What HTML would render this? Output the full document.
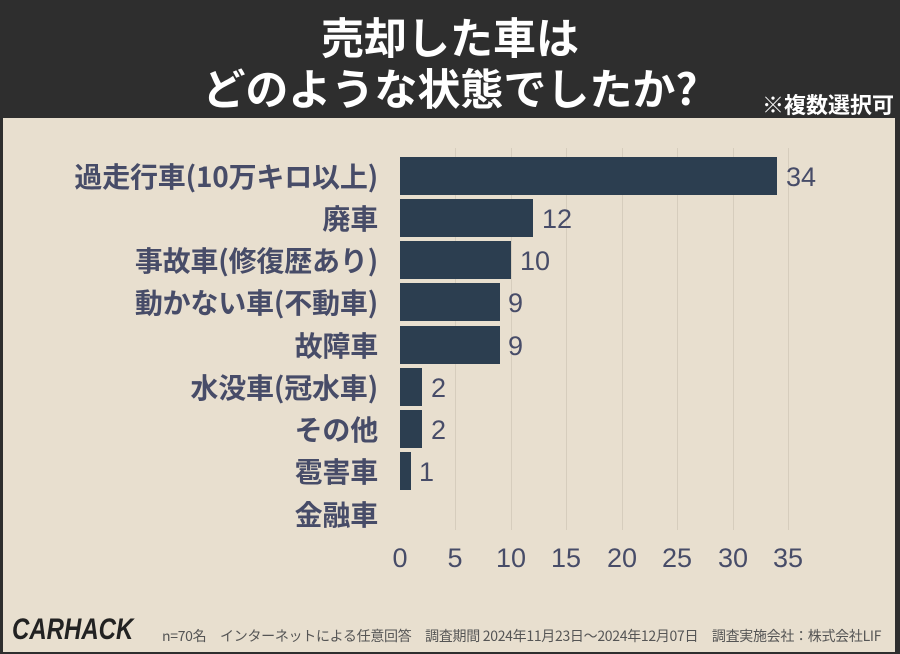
<!DOCTYPE html>
<html><head><meta charset="utf-8"><style>
body{margin:0;width:900px;height:654px;overflow:hidden;background:#2e2e2e;font-family:"Liberation Sans","Noto Sans CJK JP",sans-serif}
#bg{position:absolute;left:3px;top:118px;width:892px;height:534px;background:#e8dfcf}
.h{position:absolute;left:0;width:900px;text-align:center;color:#fff;font-weight:bold;font-size:43px;font-family:"Noto Sans CJK JP",sans-serif}
.lab{position:absolute;right:522px;font-weight:bold;font-size:28px;color:#474c68;font-family:"Noto Sans CJK JP",sans-serif;line-height:30px;white-space:nowrap;letter-spacing:-0.2px}
.bar{position:absolute;left:400px;height:38px;background:#2c3e50}
.val{position:absolute;font-size:27px;color:#474c68;line-height:30px}
.g{position:absolute;top:148px;height:382px;width:1px;background:#d6cdbd}
.t{position:absolute;top:543px;width:40px;margin-left:-20px;text-align:center;font-size:27px;color:#474c68}
</style></head><body>
<div id="bg"></div>
<div class="h" style="top:11px;line-height:50px">売却した車は</div>
<div class="h" style="top:61px;line-height:52px">どのような状態でしたか?</div>
<div style="position:absolute;right:6px;top:90px;color:#fff;font-weight:bold;font-size:22px;font-family:'Noto Sans CJK JP',sans-serif;line-height:28px">※複数選択可</div>
<div class="g" style="left:455px"></div><div class="g" style="left:511px"></div><div class="g" style="left:566px"></div><div class="g" style="left:622px"></div><div class="g" style="left:677px"></div><div class="g" style="left:733px"></div><div class="g" style="left:788px"></div>
<div class="lab" style="top:161px">過走行車(10万キロ以上)</div><div class="bar" style="top:157px;width:377px"></div><div class="val" style="left:786px;top:162px">34</div>
<div class="lab" style="top:203px">廃車</div><div class="bar" style="top:199px;width:133px"></div><div class="val" style="left:542px;top:204px">12</div>
<div class="lab" style="top:245px">事故車(修復歴あり)</div><div class="bar" style="top:241px;width:111px"></div><div class="val" style="left:520px;top:246px">10</div>
<div class="lab" style="top:287px">動かない車(不動車)</div><div class="bar" style="top:283px;width:100px"></div><div class="val" style="left:508px;top:288px">9</div>
<div class="lab" style="top:330px">故障車</div><div class="bar" style="top:326px;width:100px"></div><div class="val" style="left:508px;top:331px">9</div>
<div class="lab" style="top:372px">水没車(冠水車)</div><div class="bar" style="top:368px;width:22px"></div><div class="val" style="left:431px;top:373px">2</div>
<div class="lab" style="top:414px">その他</div><div class="bar" style="top:410px;width:22px"></div><div class="val" style="left:431px;top:415px">2</div>
<div class="lab" style="top:456px">雹害車</div><div class="bar" style="top:452px;width:11px"></div><div class="val" style="left:419px;top:457px">1</div>
<div class="lab" style="top:499px">金融車</div>
<div class="t" style="left:400px">0</div><div class="t" style="left:455px">5</div><div class="t" style="left:511px">10</div><div class="t" style="left:566px">15</div><div class="t" style="left:622px">20</div><div class="t" style="left:677px">25</div><div class="t" style="left:733px">30</div><div class="t" style="left:788px">35</div>
<div style="position:absolute;left:12px;top:613px;font-size:30px;font-weight:bold;font-style:italic;color:#222;transform:scaleX(0.8);transform-origin:left">CARHACK</div>
<div style="position:absolute;left:162px;top:626px;font-size:14px;color:#555;font-family:'Noto Sans CJK JP',sans-serif;white-space:nowrap;letter-spacing:-0.3px">n=70名　インターネットによる任意回答　調査期間 2024年11月23日〜2024年12月07日　調査実施会社：株式会社LIF</div>
</body></html>
